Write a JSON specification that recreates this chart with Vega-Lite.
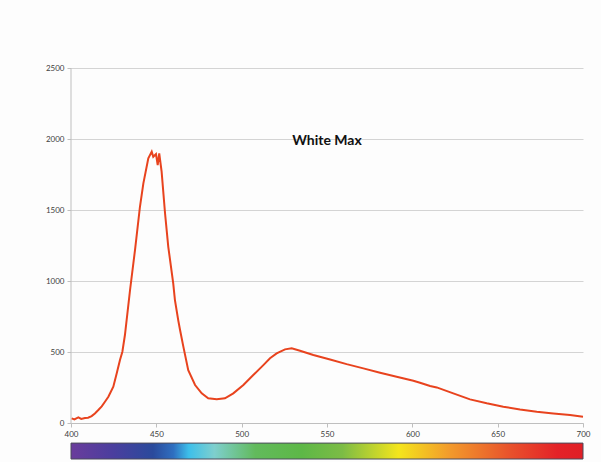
{
  "$schema": "https://vega.github.io/schema/vega-lite/v6.json",
  "width": 512,
  "height": 391,
  "autosize": "none",
  "padding": {"left": 71, "top": 68, "right": 18, "bottom": 3},
  "background": "#fdfdfd",
  "title": {"text": "White Max", "anchor": "middle", "offset": -84, "font": "Lato", "fontSize": 14, "fontWeight": "bold", "color": "#111111"},
  "config": {"view": {"stroke": null}},
  "datasets": {
    "spectrum": [
      {"wl": 400.4, "v": 33}, {"wl": 402, "v": 26}, {"wl": 404.3, "v": 40}, {"wl": 406, "v": 29},
      {"wl": 408.2, "v": 35}, {"wl": 410, "v": 38}, {"wl": 412.1, "v": 49}, {"wl": 414, "v": 68},
      {"wl": 416, "v": 92}, {"wl": 418, "v": 118}, {"wl": 419.9, "v": 150}, {"wl": 421.9, "v": 185},
      {"wl": 424.8, "v": 256}, {"wl": 426.8, "v": 350}, {"wl": 428.7, "v": 444}, {"wl": 430.1, "v": 502},
      {"wl": 431.6, "v": 620}, {"wl": 434.6, "v": 937}, {"wl": 437.5, "v": 1218}, {"wl": 440.4, "v": 1523},
      {"wl": 442.4, "v": 1688}, {"wl": 445.3, "v": 1864}, {"wl": 447.3, "v": 1911}, {"wl": 448.2, "v": 1875},
      {"wl": 449.8, "v": 1894}, {"wl": 450.8, "v": 1817}, {"wl": 451.7, "v": 1899}, {"wl": 453.1, "v": 1770},
      {"wl": 455.1, "v": 1477}, {"wl": 457, "v": 1241}, {"wl": 459.9, "v": 984}, {"wl": 460.9, "v": 866},
      {"wl": 462.9, "v": 720}, {"wl": 463.9, "v": 655}, {"wl": 465.8, "v": 540}, {"wl": 468.7, "v": 373},
      {"wl": 472.7, "v": 268}, {"wl": 476.6, "v": 209}, {"wl": 480.4, "v": 174}, {"wl": 485.4, "v": 167},
      {"wl": 490.2, "v": 174}, {"wl": 495.1, "v": 209}, {"wl": 501, "v": 268}, {"wl": 506.8, "v": 338},
      {"wl": 512.7, "v": 408}, {"wl": 516.6, "v": 456}, {"wl": 520.5, "v": 490}, {"wl": 525.4, "v": 519},
      {"wl": 529.3, "v": 526}, {"wl": 534.2, "v": 509}, {"wl": 542, "v": 479}, {"wl": 551.8, "v": 448},
      {"wl": 561.5, "v": 415}, {"wl": 571.3, "v": 385}, {"wl": 581.1, "v": 354}, {"wl": 590.8, "v": 326},
      {"wl": 600.6, "v": 298}, {"wl": 604.5, "v": 284}, {"wl": 610.4, "v": 261}, {"wl": 614.3, "v": 251},
      {"wl": 624, "v": 209}, {"wl": 633.8, "v": 167}, {"wl": 643.6, "v": 139}, {"wl": 653.3, "v": 115},
      {"wl": 663.1, "v": 96}, {"wl": 672.9, "v": 80}, {"wl": 682.6, "v": 68}, {"wl": 692.4, "v": 56},
      {"wl": 700, "v": 44}
    ],
    "strip": [{"from": 400, "to": 700, "lo": -141, "hi": -253}],
    "yline": [{"wl": 400, "lo": 0, "hi": 2500}]
  },
  "layer": [
    {
      "data": {"name": "yline"},
      "mark": {"type": "rule", "color": "#bfbfbf", "strokeWidth": 1},
      "encoding": {
        "x": {"field": "wl", "type": "quantitative", "scale": {"domain": [400, 700], "nice": false, "zero": false},
          "axis": {"values": [400, 450, 500, 550, 600, 650, 700], "format": "d", "title": null, "offset": -36, "grid": false, "labelFlush": false,
            "domainColor": "#bfbfbf", "tickColor": "#bfbfbf", "tickSize": 4, "labelFont": "Lato", "labelFontSize": 8, "labelColor": "#404040", "labelPadding": 3}},
        "y": {"field": "lo", "type": "quantitative", "scale": {"domain": [-253, 2500], "nice": false, "zero": false},
          "axis": {"values": [0, 500, 1000, 1500, 2000, 2500], "format": "d", "title": null, "domain": false, "grid": true, "gridColor": "#d4d4d4", "labelFlush": false,
            "tickColor": "#bfbfbf", "tickSize": 4, "labelFont": "Lato", "labelFontSize": 8, "labelColor": "#404040", "labelPadding": 3}},
        "y2": {"field": "hi"}
      }
    },
    {
      "data": {"name": "strip"},
      "mark": {"type": "rect", "stroke": "#4a4a5a", "strokeWidth": 1,
        "fill": {"gradient": "linear", "x1": 0, "y1": 0, "x2": 1, "y2": 0, "stops": [
          {"offset": 0, "color": "#6a3c9c"},
          {"offset": 0.08, "color": "#4b3e9e"},
          {"offset": 0.16, "color": "#2a4a9c"},
          {"offset": 0.2, "color": "#2f6fc0"},
          {"offset": 0.23, "color": "#3dbfea"},
          {"offset": 0.28, "color": "#7ecfce"},
          {"offset": 0.36, "color": "#62ba5c"},
          {"offset": 0.45, "color": "#5db847"},
          {"offset": 0.53, "color": "#7cbc45"},
          {"offset": 0.64, "color": "#f4e51c"},
          {"offset": 0.74, "color": "#f29a2c"},
          {"offset": 0.86, "color": "#e8502c"},
          {"offset": 0.95, "color": "#e42228"},
          {"offset": 1, "color": "#e01f26"}
        ]}},
      "encoding": {
        "x": {"field": "from", "type": "quantitative"},
        "x2": {"field": "to"},
        "y": {"field": "lo", "type": "quantitative"},
        "y2": {"field": "hi"}
      }
    },
    {
      "data": {"name": "spectrum"},
      "mark": {"type": "line", "color": "#e8431e", "strokeWidth": 2},
      "encoding": {
        "x": {"field": "wl", "type": "quantitative"},
        "y": {"field": "v", "type": "quantitative"}
      }
    }
  ]
}
